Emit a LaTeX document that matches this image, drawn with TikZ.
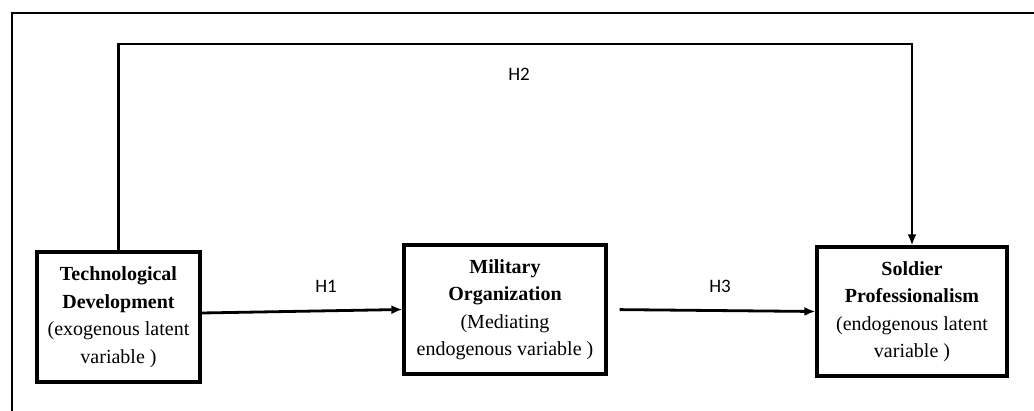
\documentclass[tikz,border=0pt]{standalone}
\usepackage{fontspec}
\setmainfont{Liberation Serif}
\newfontfamily\labfont{Carlito}
\usetikzlibrary{arrows.meta}
\begin{document}
\begin{tikzpicture}[x=1pt,y=-1pt,
  varbox/.style={draw, line width=3.2pt, align=center, inner sep=0pt,
    font=\fontsize{20}{27.5}\selectfont},
  conn/.style={line width=2.8pt, -{Latex[length=11pt,width=9pt]}},
  hlab/.style={font=\labfont\fontsize{19}{22}\selectfont}]
\useasboundingbox (0,0) rectangle (1034,411);
\draw[line width=2.4pt] (12,411) -- (12,13) -- (1034,13);
\node[varbox, minimum width=163pt, minimum height=130pt] (b1) at (118.5,317)
  {\textbf{Technological}\\ \textbf{Development}\\ (exogenous latent\\ variable )};
\node[varbox, minimum width=202pt, minimum height=129pt] (b2) at (505,309.5)
  {\textbf{Military}\\ \textbf{Organization}\\ (Mediating\\ endogenous variable )};
\node[varbox, minimum width=190pt, minimum height=129pt] (b3) at (912,311.5)
  {\textbf{Soldier}\\ \textbf{Professionalism}\\ (endogenous latent\\ variable )};
\coordinate (top) at (515,44);
\draw[conn] (b1.north) |- (top) -| (b3.north);
\draw[conn] ([yshift=4pt]b1.east) -- (b2.west);
\draw[conn, shorten <=12pt] (b2.east) -- (b3.west);
\node[hlab] (h2) at (519,74) {H2};
\node[hlab] (h1) at (326,286) {H1};
\node[hlab] (h3) at (720,286) {H3};
\end{tikzpicture}
\end{document}
